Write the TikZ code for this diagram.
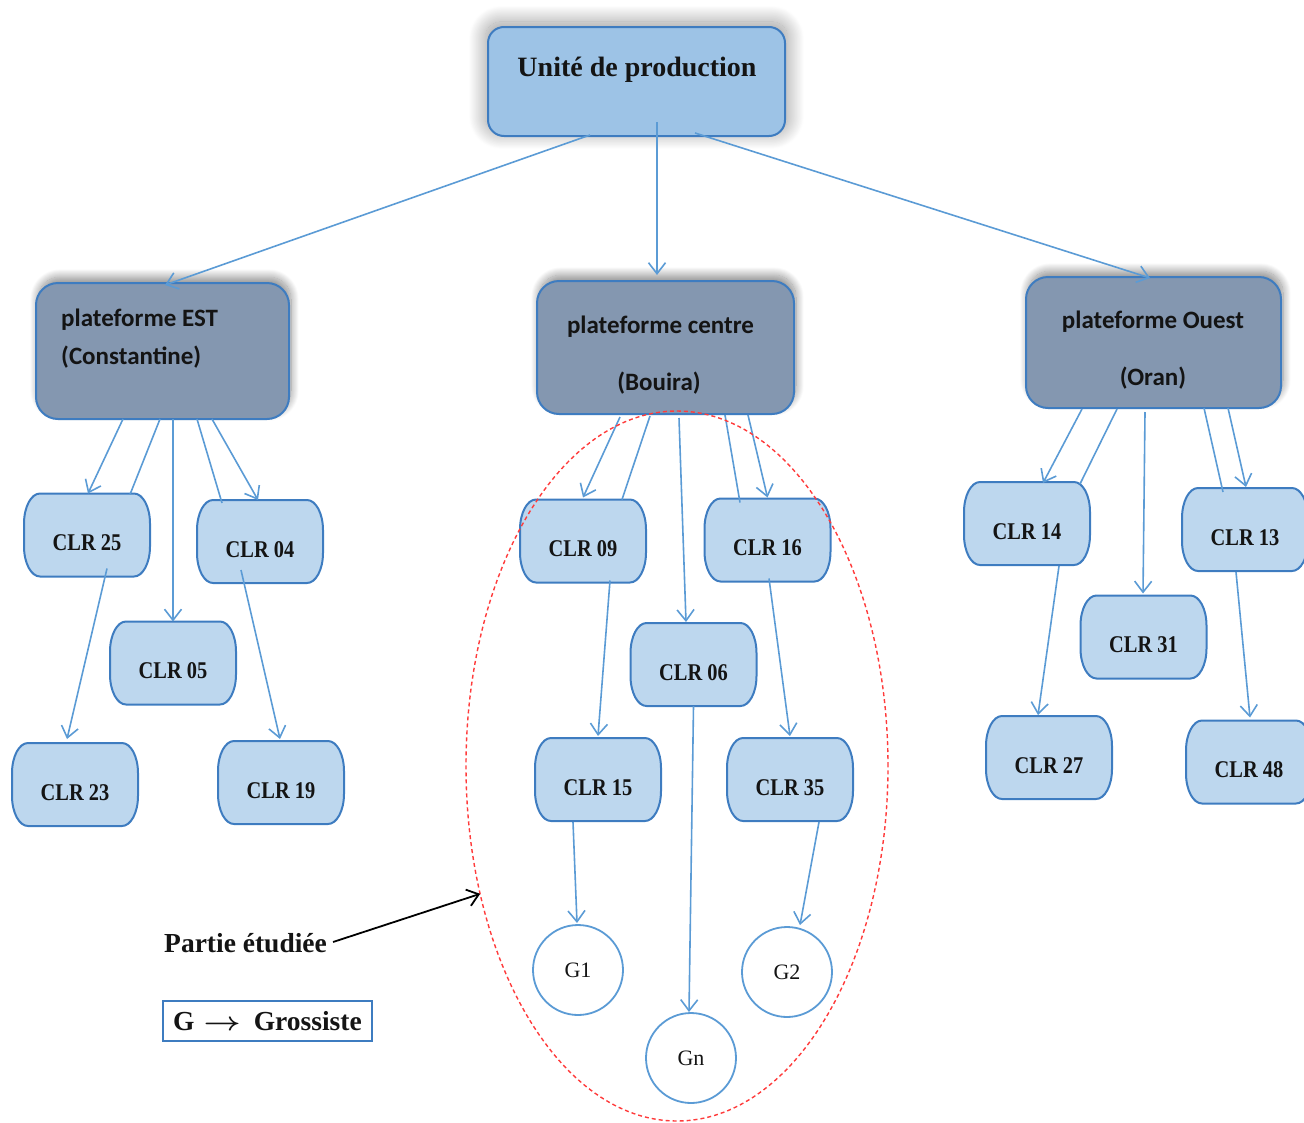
\documentclass[tikz,border=0pt]{standalone}
\usepackage{fontspec}
\setmainfont{Liberation Serif}
\newfontfamily\calib{Carlito}
\usetikzlibrary{arrows.meta,shapes.geometric,shadows.blur,calc}

\definecolor{topfill}{HTML}{9DC3E6}
\definecolor{platfill}{HTML}{8497B0}
\definecolor{clrfill}{HTML}{BDD7EE}
\definecolor{edgeblue}{HTML}{3E7CC0}
\definecolor{linkblue}{HTML}{5B9BD5}
\definecolor{zonered}{HTML}{FF3B3B}
\definecolor{inkdark}{HTML}{141414}

\tikzset{
  link/.style={draw=linkblue, line width=1.6pt},
  arr/.style={link, -{Straight Barb[length=11pt,width=17pt,line width=1.6pt]}},
  topbox/.style={draw=edgeblue, line width=2pt, fill=topfill, rounded corners=16pt,
    minimum width=297pt, minimum height=109pt, inner sep=0pt, outer sep=0pt,
    blur shadow={shadow xshift=0pt, shadow yshift=4pt, shadow blur radius=16pt,
      shadow blur steps=40, shadow opacity=40, shadow scale=1.02}},
  toptext/.style={font=\bfseries\fontsize{28}{30}\selectfont, text=inkdark, inner sep=0pt},
  platbox/.style={draw=edgeblue, line width=2pt, fill=platfill, rounded corners=22pt,
    inner sep=0pt, outer sep=0pt,
    blur shadow={shadow xshift=2pt, shadow yshift=6pt, shadow blur radius=8pt,
      shadow blur steps=24, shadow opacity=45}},
  plattext/.style={font=\calib\bfseries\fontsize{25}{28}\selectfont, text=inkdark, inner sep=0pt},
  clrnode/.style={minimum width=126pt, minimum height=83pt, inner sep=0pt, outer sep=0pt},
  clrline/.style={draw=edgeblue, line width=2pt, fill=clrfill},
  clrtext/.style={font=\bfseries\fontsize{24}{26}\selectfont, text=inkdark, inner sep=0pt},
  gnode/.style={circle, draw=linkblue, line width=1.8pt, fill=white, minimum size=90pt,
    inner sep=0pt, outer sep=0pt, font=\fontsize{22}{22}\selectfont, text=inkdark},
  zone/.style={ellipse, draw=zonered, line width=1.4pt, dash pattern=on 4pt off 3pt,
    minimum width=422pt, minimum height=710pt, inner sep=0pt, outer sep=0pt},
  note/.style={font=\bfseries\fontsize{27.5}{29}\selectfont, text=inkdark, inner sep=0pt},
  legend/.style={draw=edgeblue, line width=1.5pt, minimum width=209pt, minimum height=40pt,
    inner sep=0pt, font=\bfseries\fontsize{27.5}{29}\selectfont, text=inkdark}
}

% client box: flat top and bottom, elliptic sides
\newcommand\clrbox[4]{%
  \node[clrnode] (#1) at (#2,#3) {};
  \draw[clrline] ([xshift=16pt]#1.north west) -- ([xshift=-16pt]#1.north east)
     arc[start angle=90, end angle=0, x radius=16pt, y radius=30pt]
     -- ([yshift=30pt]#1.south east)
     arc[start angle=0, end angle=-90, x radius=16pt, y radius=30pt]
     -- ([xshift=16pt]#1.south west)
     arc[start angle=-90, end angle=-180, x radius=16pt, y radius=30pt]
     -- ([yshift=-30pt]#1.north west)
     arc[start angle=180, end angle=90, x radius=16pt, y radius=30pt] -- cycle;
  \node[clrtext] (#1-t) at ([yshift=-8pt]#1.center) {\scalebox{0.85}[1]{#4}};
}

\begin{document}
\begin{tikzpicture}[x=1pt,y=-1pt]
\useasboundingbox (0,0) rectangle (1304,1122);

% production unit
\node[topbox] (top) at (636.5,81.5) {};
\node[toptext] (topT) at (637,70) {Unité de production};

% platforms
\node[platbox, minimum width=253pt, minimum height=136pt] (pE) at (162.5,351) {};
\node[plattext, anchor=west] (pE1) at (61,320) {plateforme EST};
\node[plattext, anchor=west] (pE2) at (61,357) {(Constantine)};

\node[platbox, minimum width=257pt, minimum height=133pt] (pC) at (665.5,347.5) {};
\node[plattext] (pC1) at (660.5,327) {plateforme centre};
\node[plattext] (pC2) at (659,383) {(Bouira)};

\node[platbox, minimum width=255pt, minimum height=131pt] (pO) at (1153.5,342.5) {};
\node[plattext] (pO1) at (1153,322) {plateforme Ouest};
\node[plattext] (pO2) at (1153,378) {(Oran)};

% client boxes
\clrbox{c25}{87}{535}{CLR 25}
\clrbox{c04}{260}{541.5}{CLR 04}
\clrbox{c05}{173}{663}{CLR 05}
\clrbox{c23}{75}{784.5}{CLR 23}
\clrbox{c19}{281}{782.5}{CLR 19}

\clrbox{c09}{583}{541}{CLR 09}
\clrbox{c16}{767.5}{540}{CLR 16}
\clrbox{c06}{693.5}{664.5}{CLR 06}
\clrbox{c15}{598}{779.5}{CLR 15}
\clrbox{c35}{790}{779.5}{CLR 35}

\clrbox{c14}{1027}{523.5}{CLR 14}
\clrbox{c13}{1245}{529.5}{CLR 13}
\clrbox{c31}{1143.5}{637}{CLR 31}
\clrbox{c27}{1049}{757.5}{CLR 27}
\clrbox{c48}{1249}{762}{CLR 48}

% wholesalers
\node[gnode] (G1) at (578,970) {G1};
\node[gnode] (G2) at (787,972) {G2};
\node[gnode] (Gn) at (691,1058) {Gn};

% unit to platforms
\draw[arr] ($(top.south)+(-46.5,-1)$) -- ($(pE.north)+(2.5,2)$);
\draw[arr] ($(top.south)+(20.5,-14)$) -- ($(pC.north)+(-8.5,-6)$);
\draw[arr] ($(top.south)+(58.5,-3)$) -- ($(pO.north)+(-3.5,1)$);

% EST branch
\draw[arr]  ($(pE.south)+(-39.5,0)$) -- ($(c25.north)+(1,0)$);
\draw[link] ($(pE.south)+(-2.5,0)$) -- ($(c25.north)+(43,1)$);
\draw[arr]  ($(pE.south)+(10.5,0)$) -- (c05.north);
\draw[link] ($(pE.south)+(34.5,0)$) -- ($(c04.north)+(-38,3)$);
\draw[arr]  ($(pE.south)+(49.5,0)$) -- ($(c04.north)+(-2,0)$);
\draw[arr]  ($(c25.south)+(20,-8)$) -- ($(c23.north)+(-8,-4)$);
\draw[arr]  ($(c04.south)+(-19,-13)$) -- ($(c19.north)+(-1,-2)$);

% centre branch
\draw[arr]  ($(pC.south)+(-45.5,3)$) -- ($(c09.north)+(0,-2)$);
\draw[link] ($(pC.south)+(-15.5,2)$) -- ($(c09.north)+(39,0)$);
\draw[arr]  ($(pC.south)+(13.5,4)$) -- ($(c06.north)+(-7.5,-1)$);
\draw[link] ($(pC.south)+(59.5,1)$) -- ($(c16.north)+(-27.5,4)$);
\draw[arr]  ($(pC.south)+(82.5,1)$) -- ($(c16.north)+(0,-1)$);
\draw[arr]  ($(c09.south)+(27,-2)$) -- ($(c15.north)+(0,-2)$);
\draw[arr]  ($(c16.south)+(1.5,-3)$) -- ($(c35.north)+(0,-2)$);
\draw[arr]  (c06.south) -- ($(Gn.north)+(-2,-1)$);
\draw[arr]  ($(c15.south)+(-25,1)$) -- ($(G1.north)+(-1,-2)$);
\draw[arr]  ($(c35.south)+(29,1)$) -- ($(G2.north)+(13,-2)$);

% Ouest branch
\draw[arr]  ($(pO.south)+(-71.5,1)$) -- ($(c14.north)+(16,1)$);
\draw[link] ($(pO.south)+(-36.5,1)$) -- ($(c14.north)+(53,2)$);
\draw[arr]  ($(pO.south)+(-8.5,4)$) -- ($(c31.north)+(-0.5,-2)$);
\draw[link] ($(pO.south)+(50.5,0)$) -- ($(c13.north)+(-22,4)$);
\draw[arr]  ($(pO.south)+(74.5,0)$) -- ($(c13.north)+(1,-1)$);
\draw[arr]  ($(c14.south)+(32,1)$) -- ($(c27.north)+(-11,-1)$);
\draw[arr]  ($(c13.south)+(-9,1)$) -- ($(c48.north)+(1,-3)$);

% studied part
\node[zone] (zoneC) at (677,766) {};
\node[note, anchor=west] (partie) at (164,943) {Partie étudiée};
\draw[line width=1.8pt, black, -{Straight Barb[length=11pt,width=17pt,line width=1.8pt]}]
  ($(partie.east)+(6,-1)$) -- (zoneC.213);

% legend
\node[legend] (leg) at (267.5,1021) {G\hspace{9pt}\scalebox{1.3}[1.05]{\boldmath$\rightarrow$}\hspace{13pt}Grossiste};
\end{tikzpicture}
\end{document}
